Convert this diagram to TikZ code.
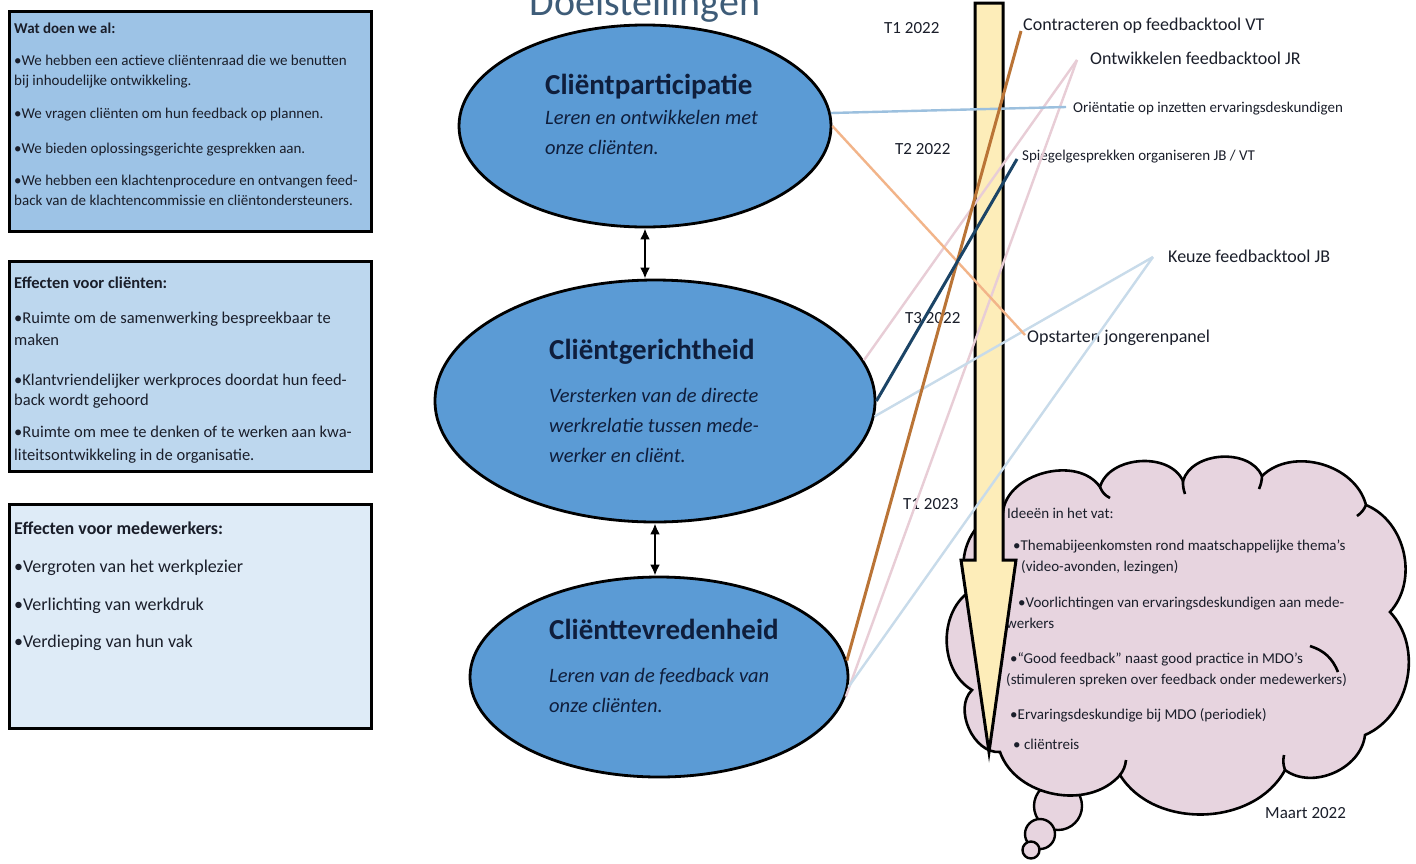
\documentclass[tikz,border=0pt]{standalone}
\usepackage{fontspec}
\setmainfont{Carlito}
\usetikzlibrary{shapes.geometric,arrows.meta}
\definecolor{boxA}{HTML}{9DC3E6}
\definecolor{boxB}{HTML}{BDD7EE}
\definecolor{boxC}{HTML}{DEEBF7}
\definecolor{ellfill}{HTML}{5B9BD5}
\definecolor{navytext}{HTML}{0F1E3C}
\definecolor{bodytext}{HTML}{1A1E2A}
\definecolor{arrowfill}{HTML}{FDEDB9}
\definecolor{cloudfill}{HTML}{E7D4DF}
\definecolor{titlecol}{HTML}{3E5C78}
\definecolor{lbrown}{HTML}{BA7436}
\definecolor{lpink}{HTML}{E8CDD6}
\definecolor{lblue}{HTML}{9CC0DE}
\definecolor{lnavy}{HTML}{1B4466}
\definecolor{lorange}{HTML}{F2B489}
\definecolor{lsky}{HTML}{C8DBEA}
\begin{document}
\begin{tikzpicture}[x=1pt,y=-1pt,
  sz/.style={font=\fontsize{#1}{#1}\selectfont},
  t/.style={anchor=base west, inner sep=0pt, text=bodytext},
  infobox/.style={draw=black, line width=3pt, anchor=north west, inner sep=0pt},
  goal/.style={ellipse, draw=black, line width=2.8pt, fill=ellfill, inner sep=0pt},
  gt/.style={anchor=base west, inner sep=0pt, text=navytext},
  dbl/.style={{Latex[length=11pt,width=10pt]}-{Latex[length=11pt,width=10pt]}, line width=2.8pt, black},
  ln/.style={line width=2.4pt},
  cloudline/.style={draw=black, line width=2.6pt},
  bubble/.style={circle, draw=black, line width=2.4pt, fill=cloudfill, inner sep=0pt}]
\useasboundingbox (0,0) rectangle (1416,863);
\clip (0,0) rectangle (1416,863);
\fill[white] (0,0) rectangle (1416,863);

% title
\node[anchor=base, inner sep=0pt, sz=40, text=titlecol] (title) at (645,15) {Doelstellingen};

% left boxes
\node[infobox, fill=boxA, minimum width=362, minimum height=220] (b1) at (8,10) {};
\node[t, sz=15] (b1t) at (14,33) {\bfseries Wat doen we al:};
\node[t, sz=15] (b1a) at (14,65) {•We hebben een actieve cliëntenraad die we benutten};
\node[t, sz=15] (b1b) at (14,85) {bij inhoudelijke ontwikkeling.};
\node[t, sz=15] (b1c) at (14,118) {•We vragen cliënten om hun feedback op plannen.};
\node[t, sz=15] (b1d) at (14,153) {•We bieden oplossingsgerichte gesprekken aan.};
\node[t, sz=15] (b1e) at (14,185) {•We hebben een klachtenprocedure en ontvangen feed-};
\node[t, sz=15] (b1f) at (14,205) {back van de klachtencommissie en cliëntondersteuners.};

\node[infobox, fill=boxB, minimum width=362, minimum height=210] (b2) at (8,260) {};
\node[t, sz=16.5] (b2t) at (14,288) {\bfseries Effecten voor cliënten:};
\node[t, sz=16.5] (b2a) at (14,323) {•Ruimte om de samenwerking bespreekbaar te};
\node[t, sz=16.5] (b2b) at (14,345) {maken};
\node[t, sz=16.5] (b2c) at (14,385) {•Klantvriendelijker werkproces doordat hun feed-};
\node[t, sz=16.5] (b2d) at (14,405) {back wordt gehoord};
\node[t, sz=16.5] (b2e) at (14,437) {•Ruimte om mee te denken of te werken aan kwa-};
\node[t, sz=16.5] (b2f) at (14,460) {liteitsontwikkeling in de organisatie.};

\node[infobox, fill=boxC, minimum width=362, minimum height=224] (b3) at (8,503) {};
\node[t, sz=18] (b3t) at (14,534) {\bfseries Effecten voor medewerkers:};
\node[t, sz=18] (b3a) at (14,572) {•Vergroten van het werkplezier};
\node[t, sz=18] (b3b) at (14,610) {•Verlichting van werkdruk};
\node[t, sz=18] (b3c) at (14,647) {•Verdieping van hun vak};

% goals
\node[goal, minimum width=372, minimum height=202] (e1) at (645,126) {};
\node[goal, minimum width=440, minimum height=242] (e2) at (655,401) {};
\node[goal, minimum width=378, minimum height=200] (e3) at (659,677) {};
\node[gt, sz=29] (e1t) at (545,94) {\bfseries Cliëntparticipatie};
\node[gt, sz=20.5] (e1a) at (545,124) {\itshape Leren en ontwikkelen met};
\node[gt, sz=20.5] (e1b) at (545,154) {\itshape onze cliënten.};
\node[gt, sz=29] (e2t) at (549,359) {\bfseries Cliëntgerichtheid};
\node[gt, sz=20.5] (e2a) at (549,402) {\itshape Versterken van de directe};
\node[gt, sz=20.5] (e2b) at (549,432) {\itshape werkrelatie tussen mede-};
\node[gt, sz=20.5] (e2c) at (549,462) {\itshape werker en cliënt.};
\node[gt, sz=29] (e3t) at (549,639) {\bfseries Cliënttevredenheid};
\node[gt, sz=20.5] (e3a) at (549,682) {\itshape Leren van de feedback van};
\node[gt, sz=20.5] (e3b) at (549,712) {\itshape onze cliënten.};
\draw[dbl] (e1.south) -- (e1.south |- e2.north);
\draw[dbl] (e2.south) -- (e2.south |- e3.north);

% thought cloud
\node[bubble, minimum size=48] (bb1) at (1058,806) {};
\draw[cloudline, fill=cloudfill] (1003,512) to[bend left=70] (1100,487) to[bend left=70] (1183,481)
  to[bend left=70] (1262,476) to[bend left=60] (1366,505) to[bend left=55] (1390,612)
  to[bend left=55] (1365,735) to[bend left=60] (1285,770) to[bend left=60] (1120,775)
  to[bend left=60] (1000,752) to[bend left=70] (972,690) to[bend left=60] (972,590)
  to[bend left=60] (1003,512) -- cycle;
\draw[cloudline] (1100,487) to[bend right=20] (1110,498);
\draw[cloudline] (1183,481) to[bend right=10] (1185,494);
\draw[cloudline] (1262,476) to[bend left=10] (1259,489);
\draw[cloudline] (1366,505) to[bend left=15] (1357,516);
\draw[cloudline] (1310,646) to[bend left=25] (1338,672);
\draw[cloudline] (1285,770) to[bend left=15] (1284,755);
\draw[cloudline] (1120,775) to[bend right=15] (1126,760);
\node[bubble, minimum size=30] (bb2) at (1040,834) {};
\node[bubble, minimum size=17] (bb3) at (1031,850) {};

\node[t, sz=15] (c0) at (1007,518) {Ideeën in het vat:};
\node[t, sz=15] (c1) at (1013,550) {•Themabijeenkomsten rond maatschappelijke thema’s};
\node[t, sz=15] (c2) at (1021,571) {(video-avonden, lezingen)};
\node[t, sz=15] (c3) at (1018,607) {•Voorlichtingen van ervaringsdeskundigen aan mede-};
\node[t, sz=15] (c4) at (1006,628) {werkers};
\node[t, sz=15] (c5) at (1010,663) {•“Good feedback” naast good practice in MDO’s};
\node[t, sz=15] (c6) at (1006,684) {(stimuleren spreken over feedback onder medewerkers)};
\node[t, sz=15] (c7) at (1010,719) {•Ervaringsdeskundige bij MDO (periodiek)};
\node[t, sz=15] (c8) at (1013,749) {• cliëntreis};
\node[t, sz=17] (maart) at (1265,818) {Maart 2022};

% time arrow
\draw[line width=3pt, fill=arrowfill, line join=miter] (975,3) -- (1003,3) -- (1003,560) -- (1016,560)
  -- (989,752) -- (961,560) -- (975,560) -- cycle;

% time labels
\node[t, sz=17] (t1) at (884,33) {T1 2022};
\node[t, sz=17] (t2) at (895,154) {T2 2022};
\node[t, sz=17] (t3) at (905,323) {T3 2022};
\node[t, sz=17] (t4) at (903,509) {T1 2023};

% action labels
\node[t, sz=18] (lc) at (1023,30) {Contracteren op feedbacktool VT};
\node[t, sz=18] (lo) at (1090,64) {Ontwikkelen feedbacktool JR};
\node[t, sz=15] (lr) at (1073,112) {Oriëntatie op inzetten ervaringsdeskundigen};
\node[t, sz=15] (ls) at (1022,160) {Spiegelgesprekken organiseren JB / VT};
\node[t, sz=18] (lk) at (1168,262) {Keuze feedbacktool JB};
\node[t, sz=18] (lj) at (1027,342) {Opstarten jongerenpanel};
\coordinate (pc) at (1021,31);
\coordinate (po) at (1077,60);
\coordinate (pr) at (1066,107);
\coordinate (ps) at (1017,159);
\coordinate (pk) at (1153,257);
\coordinate (pj) at (1025,335);

% connectors
\draw[ln, lpink] (e2.11) -- (po);
\draw[ln, lpink] (e3.-6) -- (po);
\draw[ln, lsky] (e2.-4) -- (pk);
\draw[ln, lsky] (e3.-3) -- (pk);
\draw[ln, lorange] (e1.0) -- (pj);
\draw[ln, lblue] (e1.4) -- (pr);
\draw[ln, lbrown, line width=3pt] (e3.5) -- (pc);
\draw[ln, lnavy, line width=3pt] (e2.east) -- (ps);
\end{tikzpicture}
\end{document}
